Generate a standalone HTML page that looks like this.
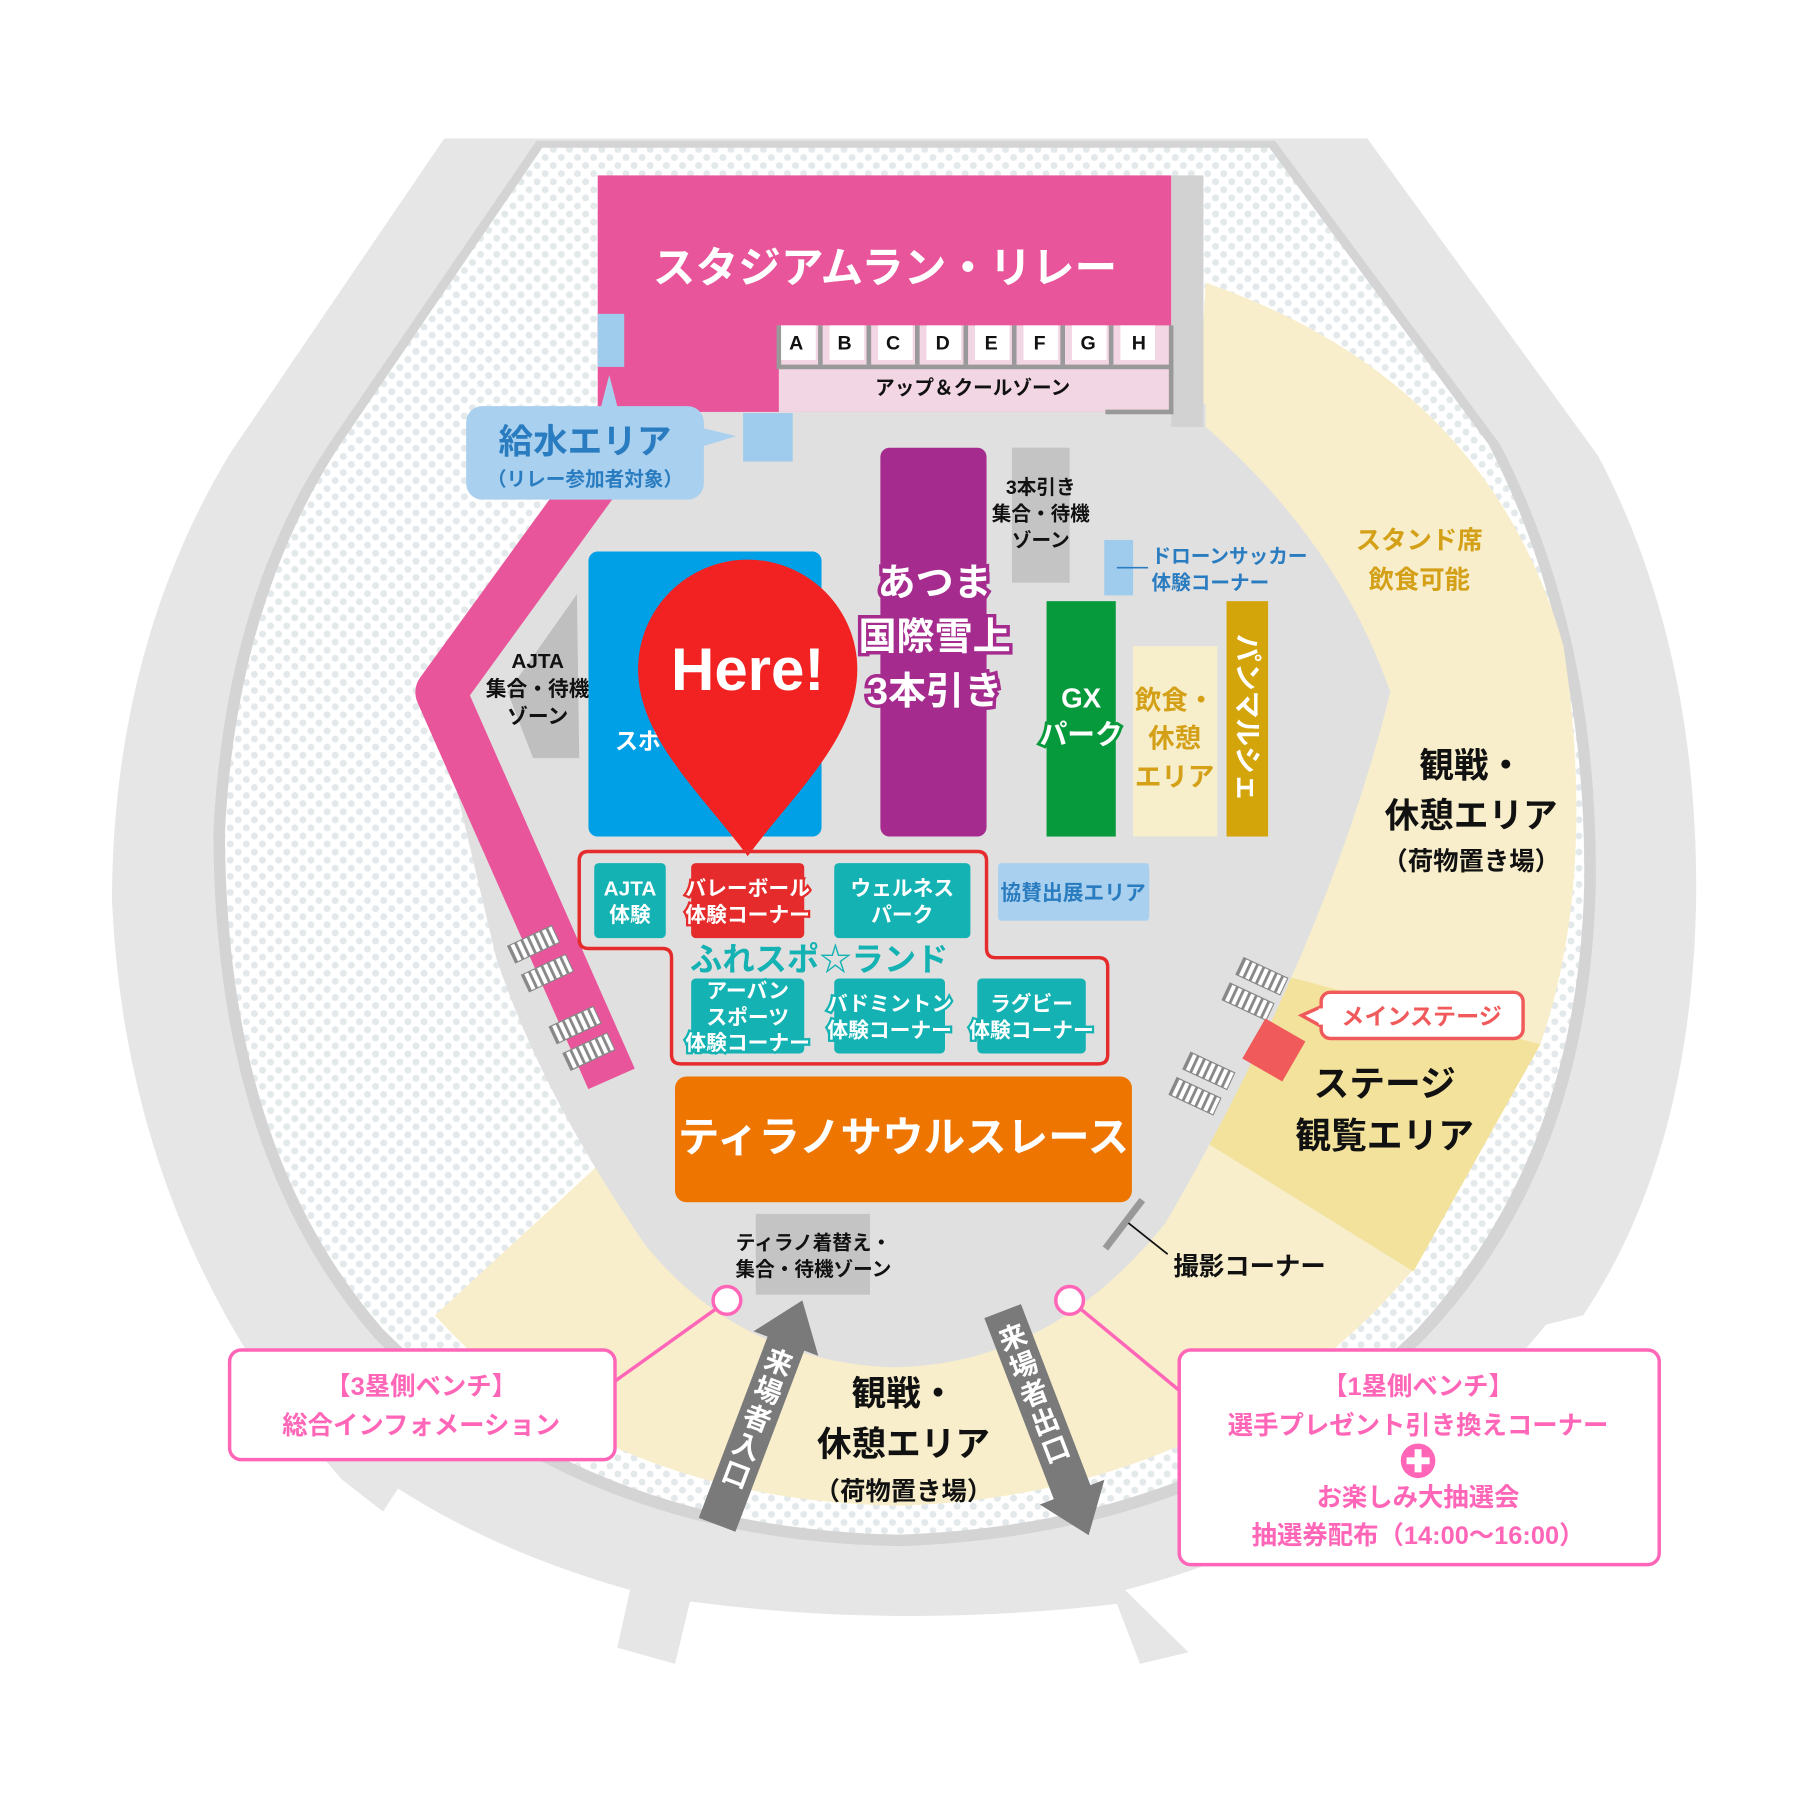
<!DOCTYPE html>
<html><head><meta charset="utf-8"><style>
html,body{margin:0;padding:0;background:#fff}
svg{display:block}
text{font-family:"Liberation Sans","Noto Sans CJK JP",sans-serif;font-weight:bold;text-anchor:middle}
</style></head><body>
<svg width="1800" height="1800" viewBox="0 0 1560 1560" xmlns="http://www.w3.org/2000/svg">
<defs>
<pattern id="dots" width="14" height="14" patternUnits="userSpaceOnUse">
<rect width="14" height="14" fill="#fff"/><circle cx="3.5" cy="3.5" r="3" fill="#e3e8eb"/><circle cx="10.5" cy="10.5" r="3" fill="#e3e8eb"/>
</pattern>
<pattern id="rail" width="6" height="30" patternUnits="userSpaceOnUse">
<rect width="6" height="30" fill="#fff"/><rect width="2.5" height="30" fill="#888"/>
</pattern>
</defs>
<rect width="1560" height="1560" fill="#fff"/>
<path d="M385,120 L1185,120 L1385,395 Q1472,560 1470,780 Q1466,1000 1372,1140 L1340,1148 Q1200,1320 975,1378 L1030,1432 L988,1442 L968,1390 Q780,1412 598,1388 L585,1442 L535,1428 L546,1378 Q430,1345 345,1290 L332,1310 L296,1282 Q110,1070 97,780 Q98,560 200,392 Z" fill="#e6e6e6"/>
<path d="M465,122 L1105,122 L1300,385 Q1385,550 1383,765 Q1378,1010 1235,1160 Q1060,1330 780,1340 Q500,1335 325,1160 Q185,1000 185,720 Q195,520 285,385 Z" fill="#d4d4d4"/>
<path d="M470,128 L1100,128 L1290,385 Q1375,550 1373,765 Q1368,1000 1228,1152 Q1055,1320 780,1330 Q505,1325 332,1152 Q195,995 195,720 Q205,525 293,388 Z" fill="url(#dots)"/>
<path d="M1045,245 Q1290,330 1355,560 Q1385,760 1335,905 L1225,1100 Q1060,1295 780,1305 Q520,1300 377,1140 L540,990 L1000,990 Z" fill="#f8eecb"/>
<polygon points="1100,842 1335,905 1225,1102 1045,990" fill="#f3e29c"/>
<path d="M520,350 L1045,350 L1045,370 Q1160,470 1205,600 Q1150,820 1010,1060 Q910,1185 770,1185 Q640,1178 560,1080 Q470,950 430,830 L385,640 Q420,500 515,420 Z" fill="#e0e0e0"/>
<path d="M520,410 L382,600 L530,935" fill="none" stroke="#e8559a" stroke-width="44" stroke-linejoin="round"/>
<g fill="url(#rail)" stroke="#888" stroke-width="1">
<rect x="0" y="0" width="42" height="16" transform="translate(440,820) rotate(-25)"/>
<rect x="0" y="0" width="42" height="16" transform="translate(452,845) rotate(-25)"/>
<rect x="0" y="0" width="42" height="16" transform="translate(476,890) rotate(-25)"/>
<rect x="0" y="0" width="42" height="16" transform="translate(488,913) rotate(-25)"/>
<rect x="0" y="0" width="42" height="16" transform="translate(1078,830) rotate(25)"/>
<rect x="0" y="0" width="42" height="16" transform="translate(1066,852) rotate(25)"/>
<rect x="0" y="0" width="42" height="16" transform="translate(1032,912) rotate(25)"/>
<rect x="0" y="0" width="42" height="16" transform="translate(1020,934) rotate(25)"/>
</g>
<rect x="1015" y="152" width="28" height="218" fill="#d2d2d2"/>
<rect x="518" y="152" width="497" height="205" fill="#e8559a"/>
<text x="767" y="245" font-size="37" fill="#fff">スタジアムラン・リレー</text>
<rect x="675" y="282" width="340" height="75" fill="#f3d6e3"/>
<path d="M675,282 L675,318 L1015,318 M1015,282 L1015,357 L958,357" fill="none" stroke="#999" stroke-width="4"/>
<g font-size="17" fill="#111">
<rect x="677" y="282" width="30" height="30" fill="#fff"/><text x="690" y="303">A</text>
<rect x="719" y="282" width="30" height="30" fill="#fff"/><text x="732" y="303">B</text>
<rect x="761" y="282" width="30" height="30" fill="#fff"/><text x="774" y="303">C</text>
<rect x="803" y="282" width="30" height="30" fill="#fff"/><text x="817" y="303">D</text>
<rect x="845" y="282" width="30" height="30" fill="#fff"/><text x="859" y="303">E</text>
<rect x="887" y="282" width="30" height="30" fill="#fff"/><text x="901" y="303">F</text>
<rect x="929" y="282" width="30" height="30" fill="#fff"/><text x="943" y="303">G</text>
<rect x="971" y="282" width="30" height="30" fill="#fff"/><text x="987" y="303">H</text>
</g>
<g stroke="#999" stroke-width="4"><line x1="711" y1="282" x2="711" y2="316"/><line x1="753" y1="282" x2="753" y2="316"/><line x1="795" y1="282" x2="795" y2="316"/><line x1="837" y1="282" x2="837" y2="316"/><line x1="879" y1="282" x2="879" y2="316"/><line x1="921" y1="282" x2="921" y2="316"/><line x1="963" y1="282" x2="963" y2="316"/></g>
<text x="843" y="342" font-size="17" fill="#111">アップ＆クールゾーン</text>
<rect x="518" y="272" width="23" height="46" fill="#9fcbec"/>
<rect x="644" y="358" width="43" height="42" fill="#9fcbec"/>
<rect x="957" y="468" width="25" height="48" fill="#9fcbec"/>
<polygon points="520,356 528,325 536,356" fill="#a9d0ee"/>
<polygon points="605,370 638,378 605,388" fill="#a9d0ee"/>
<rect x="404" y="352" width="206" height="81" rx="14" fill="#a9d0ee"/>
<text x="507" y="393" font-size="30" fill="#2a7cc0">給水エリア</text>
<text x="507" y="421" font-size="17" fill="#2a7cc0">（リレー参加者対象）</text>
<polygon points="440,600 500,515 502,657 462,657" fill="#bfbfbf"/>
<g font-size="18" fill="#111"><text x="466" y="579">AJTA</text><text x="466" y="603">集合・待機</text><text x="466" y="627">ゾーン</text></g>
<rect x="510" y="478" width="202" height="247" rx="8" fill="#00a0e6"/>
<text x="553" y="649" font-size="20" fill="#fff">スポ</text>
<rect x="763" y="388" width="92" height="337" rx="8" fill="#a52c8e"/>
<g font-size="33" fill="#fff" stroke="#a52c8e" stroke-width="6" paint-order="stroke"><text x="810" y="516">あつま</text><text x="810" y="563">国際雪上</text><text x="810" y="610">3本引き</text></g>
<rect x="877" y="388" width="50" height="117" fill="#c4c4c4"/>
<g font-size="17" fill="#111"><text x="902" y="428">3本引き</text><text x="902" y="451">集合・待機</text><text x="902" y="474">ゾーン</text></g>
<line x1="968" y1="492" x2="995" y2="492" stroke="#2a7cc0" stroke-width="1.5"/>
<g font-size="17" fill="#2a7cc0"><text x="998" y="488" style="text-anchor:start">ドローンサッカー</text><text x="998" y="511" style="text-anchor:start">体験コーナー</text></g>
<rect x="907" y="521" width="60" height="204" fill="#079a3c"/>
<g font-size="24" fill="#fff" stroke="#079a3c" stroke-width="5" paint-order="stroke"><text x="937" y="613">GX</text><text x="937" y="645">パーク</text></g>
<rect x="982" y="560" width="73" height="165" fill="#f7efcc"/>
<g font-size="23" fill="#d4a017"><text x="1018" y="615">飲食・</text><text x="1018" y="648">休憩</text><text x="1018" y="681">エリア</text></g>
<rect x="1063" y="521" width="36" height="204" fill="#d4a50a"/>
<text transform="translate(1081,622) rotate(90)" x="0" y="8" font-size="24" fill="#fff">パンマルシェ</text>
<g font-size="22" fill="#d4a017"><text x="1230" y="476">スタンド席</text><text x="1230" y="510">飲食可能</text></g>
<g fill="#111"><text x="1275" y="674" font-size="30">観戦・</text><text x="1275" y="717" font-size="30">休憩エリア</text><text x="1275" y="754" font-size="22">（荷物置き場）</text></g>
<path d="M648,742 C610,690 553,640 553,580 A95,95 0 0 1 743,580 C743,640 686,690 648,742 Z" fill="#f22222"/>
<text x="648" y="598" font-size="52" fill="#fff">Here!</text>
<path d="M510,738 L847,738 Q855,738 855,746 L855,822 Q855,830 863,830 L952,830 Q960,830 960,838 L960,914 Q960,922 952,922 L590,922 Q582,922 582,914 L582,830 Q582,822 574,822 L510,822 Q502,822 502,814 L502,746 Q502,738 510,738 Z" fill="none" stroke="#e52b2b" stroke-width="3"/>
<rect x="515" y="748" width="62" height="65" rx="4" fill="#14b2b3"/>
<rect x="599" y="748" width="98" height="65" rx="4" fill="#e52b2b"/>
<rect x="723" y="748" width="118" height="65" rx="4" fill="#14b2b3"/>
<rect x="599" y="848" width="98" height="65" rx="4" fill="#14b2b3"/>
<rect x="723" y="848" width="96" height="65" rx="4" fill="#14b2b3"/>
<rect x="847" y="848" width="94" height="65" rx="4" fill="#14b2b3"/>
<g font-size="18" fill="#fff" stroke-width="4" paint-order="stroke">
<text x="546" y="776" stroke="#14b2b3">AJTA</text><text x="546" y="799" stroke="#14b2b3">体験</text>
<text x="648" y="776" stroke="#e52b2b">バレーボール</text><text x="648" y="799" stroke="#e52b2b">体験コーナー</text>
<text x="782" y="776" stroke="#14b2b3">ウェルネス</text><text x="782" y="799" stroke="#14b2b3">パーク</text>
<text x="648" y="865" stroke="#14b2b3">アーバン</text><text x="648" y="888" stroke="#14b2b3">スポーツ</text><text x="648" y="910" stroke="#14b2b3">体験コーナー</text>
<text x="771" y="876" stroke="#14b2b3">バドミントン</text><text x="771" y="899" stroke="#14b2b3">体験コーナー</text>
<text x="894" y="876" stroke="#14b2b3">ラグビー</text><text x="894" y="899" stroke="#14b2b3">体験コーナー</text>
</g>
<text x="710" y="841" font-size="28" fill="#14b2b3">ふれスポ☆ランド</text>
<rect x="865" y="748" width="131" height="50" rx="3" fill="#a9d0ee"/>
<text x="930" y="780" font-size="18" fill="#2a7cc0">協賛出展エリア</text>
<rect x="585" y="933" width="396" height="109" rx="10" fill="#ee7600"/>
<text x="783" y="998" font-size="36" fill="#fff" stroke="#ee7600" stroke-width="6" paint-order="stroke">ティラノサウルスレース</text>
<rect x="655" y="1052" width="99" height="70" fill="#c4c4c4"/>
<g font-size="17" fill="#111"><text x="705" y="1083">ティラノ着替え・</text><text x="705" y="1106">集合・待機ゾーン</text></g>
<line x1="958" y1="1082" x2="990" y2="1040" stroke="#999" stroke-width="6"/>
<line x1="978" y1="1060" x2="1012" y2="1087" stroke="#111" stroke-width="1.5"/>
<text x="1083" y="1105" font-size="22" fill="#111">撮影コーナー</text>
<rect x="-20" y="-20" width="40" height="40" fill="#f05a5a" transform="translate(1104,910) rotate(30)"/>
<polygon points="1146,872 1128,880 1146,890" fill="#fff" stroke="#f05a5a" stroke-width="3"/>
<rect x="1145" y="860" width="175" height="40" rx="8" fill="#fff" stroke="#f05a5a" stroke-width="3"/>
<rect x="1143" y="874" width="6" height="14" fill="#fff"/>
<text x="1232" y="888" font-size="20" fill="#f05a5a">メインステージ</text>
<g font-size="31" fill="#111"><text x="1200" y="950">ステージ</text><text x="1200" y="995">観覧エリア</text></g>
<g transform="translate(657,1228) rotate(20.8)">
<rect x="-17" y="-70" width="34" height="170" fill="#7a7a7a"/>
<polygon points="-30,-68 0,-108 30,-68" fill="#7a7a7a"/>
<g font-size="24" fill="#fff"><text x="0" y="-42">来</text><text x="0" y="-16">場</text><text x="0" y="10">者</text><text x="0" y="36">入</text><text x="0" y="62">口</text></g>
</g>
<g transform="translate(903,1225) rotate(-21)">
<rect x="-17" y="-95" width="34" height="170" fill="#7a7a7a"/>
<polygon points="-30,73 0,113 30,73" fill="#7a7a7a"/>
<g font-size="24" fill="#fff"><text x="0" y="-62">来</text><text x="0" y="-36">場</text><text x="0" y="-10">者</text><text x="0" y="16">出</text><text x="0" y="42">口</text></g>
</g>
<g fill="#111"><text x="783" y="1218" font-size="30">観戦・</text><text x="783" y="1262" font-size="30">休憩エリア</text><text x="783" y="1300" font-size="22">（荷物置き場）</text></g>
<line x1="621" y1="1134" x2="533" y2="1197" stroke="#ff66b8" stroke-width="3"/>
<line x1="936" y1="1134" x2="1022" y2="1205" stroke="#ff66b8" stroke-width="3"/>
<circle cx="630" cy="1127" r="12" fill="#fff" stroke="#ff66b8" stroke-width="3"/>
<circle cx="927" cy="1127" r="12" fill="#fff" stroke="#ff66b8" stroke-width="3"/>
<rect x="199" y="1170" width="334" height="95" rx="10" fill="#fff" stroke="#ff66b8" stroke-width="3"/>
<g font-size="22" fill="#ff66b8"><text x="365" y="1209">【3塁側ベンチ】</text><text x="365" y="1243">総合インフォメーション</text></g>
<rect x="1022" y="1170" width="416" height="186" rx="10" fill="#fff" stroke="#ff66b8" stroke-width="3"/>
<g font-size="22" fill="#ff66b8"><text x="1229" y="1209">【1塁側ベンチ】</text><text x="1229" y="1243">選手プレゼント引き換えコーナー</text><text x="1229" y="1305">お楽しみ大抽選会</text><text x="1229" y="1338">抽選券配布（14:00～16:00）</text></g>
<circle cx="1229" cy="1266" r="15" fill="#ff66b8"/>
<rect x="1219" y="1263" width="20" height="6" fill="#fff"/><rect x="1226" y="1256" width="6" height="20" fill="#fff"/>
</svg>
</body></html>
